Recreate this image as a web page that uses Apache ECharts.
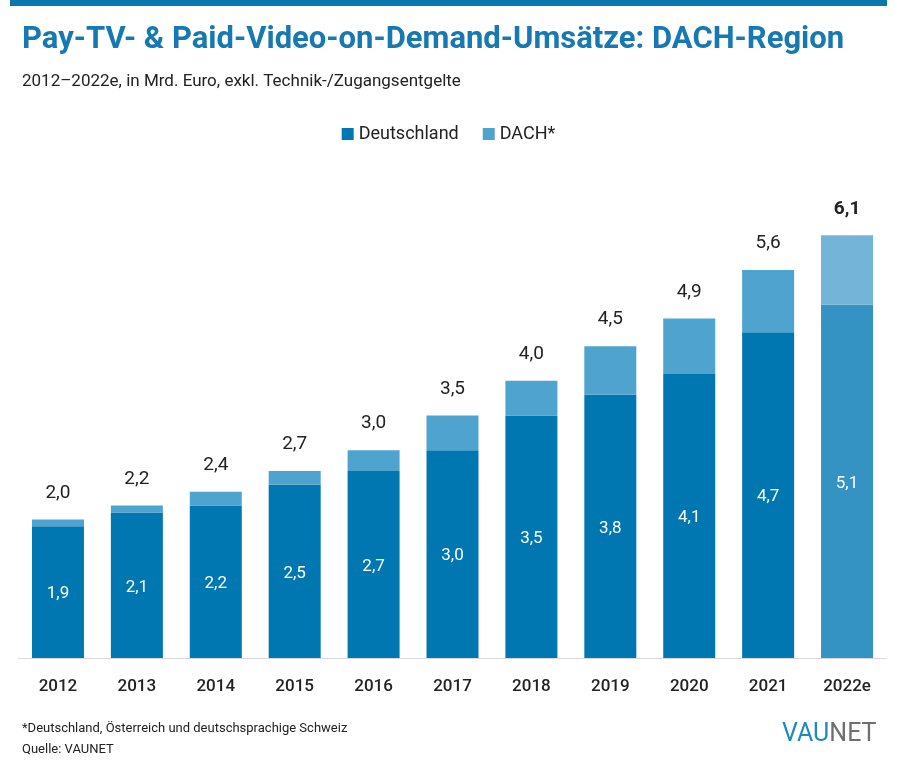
<!DOCTYPE html>
<html>
<head>
<meta charset="utf-8">
<script src="https://cdn.jsdelivr.net/npm/echarts@6/dist/echarts.min.js"></script>
<style>html,body{margin:0;padding:0;background:#fff}#c{width:897px;height:768px}</style>
</head>
<body>
<div id="c"></div>
<script>
const categories = ['2012','2013','2014','2015','2016','2017','2018','2019','2020','2021','2022e'];
const deutschland = [1.9, 2.1, 2.2, 2.5, 2.7, 3.0, 3.5, 3.8, 4.1, 4.7, 5.1];
const dachRest = [0.1, 0.1, 0.2, 0.2, 0.3, 0.5, 0.5, 0.7, 0.8, 0.9, 1.0];
const totals = [2.0, 2.2, 2.4, 2.7, 3.0, 3.5, 4.0, 4.5, 4.9, 5.6, 6.1];

const fmt = v => v.toFixed(1).replace('.', ',');
const FONT = 'Roboto';
const lastIdx = categories.length - 1;

const deData = deutschland.map((v, i) => i === lastIdx ? { value: v, itemStyle: { color: '#3593c4' } } : v);
const dachData = dachRest.map((v, i) => {
  const item = { value: v, label: { formatter: () => fmt(totals[i]) } };
  if (i === lastIdx) {
    item.itemStyle = { color: '#73b4d8' };
    item.label.fontWeight = 'bold';
  }
  return item;
});

const chart = echarts.init(document.getElementById('c'), null, { renderer: 'canvas' });
chart.setOption({
  backgroundColor: '#ffffff',
  animation: false,
  textStyle: { fontFamily: FONT },
  graphic: [
    { type: 'rect', left: 10, top: 0, shape: { width: 877, height: 6 }, style: { fill: '#0a77b0' } },
    { type: 'text', left: 22, top: 25, style: { text: 'Pay-TV- & Paid-Video-on-Demand-Umsätze: DACH-Region', font: 'bold 31px Roboto', fill: '#1779b2' } },
    { type: 'text', left: 22, top: 73, style: { text: '2012–2022e, in Mrd. Euro, exkl. Technik-/Zugangsentgelte', font: '17px Roboto', fill: '#222' } },
    { type: 'text', left: 22, top: 722, style: { text: '*Deutschland, Österreich und deutschsprachige Schweiz', font: '13px Roboto', fill: '#222' } },
    { type: 'text', left: 22, top: 743, style: { text: 'Quelle: VAUNET', font: '13px Roboto', fill: '#222' } },
    { type: 'text', left: 782, top: 722, style: { text: '{a|VAU}{b|NET}', rich: { a: { font: '25px Roboto', fill: '#1e8ac0', color: '#1e8ac0' }, b: { font: '25px Roboto', fill: '#6f6f6f', color: '#6f6f6f' } } } }
  ],
  legend: {
    top: 120,
    left: 'center',
    itemWidth: 12,
    itemHeight: 12,
    itemGap: 24,
    icon: 'rect',
    textStyle: { fontSize: 18, color: '#222', fontFamily: FONT },
    data: ['Deutschland', 'DACH*']
  },
  grid: { left: 18.5, right: 10.5, top: 173, bottom: 110, containLabel: false },
  xAxis: {
    type: 'category',
    data: categories,
    axisLine: { show: true, lineStyle: { color: '#d9d9d9', width: 1 } },
    axisTick: { show: false },
    axisLabel: { fontSize: 17, color: '#222', fontWeight: 500, margin: 20, fontFamily: FONT }
  },
  yAxis: {
    type: 'value',
    min: 0,
    max: 7,
    show: false,
    splitLine: { show: false }
  },
  series: [
    {
      name: 'Deutschland',
      type: 'bar',
      stack: 'total',
      barWidth: 52,
      itemStyle: { color: '#0077b1' },
      label: { show: true, position: 'inside', offset: [0, 2], color: '#fff', fontSize: 17, fontFamily: FONT, formatter: p => fmt(p.value) },
      data: deData
    },
    {
      name: 'DACH*',
      type: 'bar',
      stack: 'total',
      barWidth: 52,
      itemStyle: { color: '#4fa3cf' },
      label: { show: true, position: 'top', distance: 17, color: '#222', fontSize: 19, fontFamily: FONT },
      data: dachData
    }
  ]
});
</script>
</body>
</html>
